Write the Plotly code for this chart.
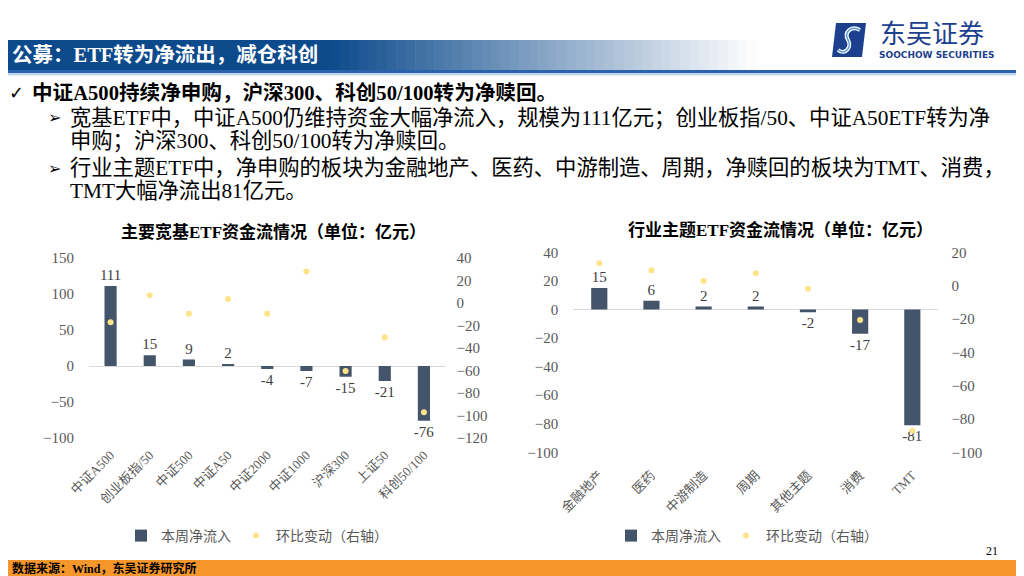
import plotly.graph_objects as go

# ---------------- data ----------------
broad_cats = ["中证A500", "创业板指/50", "中证500", "中证A50", "中证2000", "中证1000", "沪深300", "上证50", "科创50/100"]
broad_flow = [111, 15, 9, 2, -4, -7, -15, -21, -76]
broad_chg = [-17, 7, -9.5, 3.5, -9.5, 28, -60.5, -30.5, -97]

sector_cats = ["金融地产", "医药", "中游制造", "周期", "其他主题", "消费", "TMT"]
sector_flow = [15, 6, 2, 2, -2, -17, -81]
sector_chg = [13.4, 9.2, 2.8, 7.4, -1.8, -20.6, -87]

series_names = ["本周净流入", "环比变动（右轴）"]

# ---------------- style ----------------
# The page body has an 8px margin, so the figure is sized to fill the rest of the window
OFF = 8
W, H = 1024 - OFF, 576 - OFF
BAR = "#44546A"
DOT = "#FFE38A"
TICK = "#595959"
LBL = "#404040"
SERIF = "Liberation Serif, Noto Sans CJK SC, serif"
CJK = "Noto Sans CJK SC, sans-serif"


def px(x):
    return (x - OFF) / W


def py(y):
    return 1 - (y - OFF) / H


fig = go.Figure()

# left chart
fig.add_trace(go.Bar(x=broad_cats, y=broad_flow, name=series_names[0], marker_color=BAR,
                     xaxis="x", yaxis="y", text=broad_flow, texttemplate="%{text}",
                     textposition="outside", cliponaxis=False, constraintext="none",
                     textfont=dict(family=SERIF, size=15, color=LBL), legend="legend"))
fig.add_trace(go.Scatter(x=broad_cats, y=broad_chg, name=series_names[1], mode="markers",
                         marker=dict(color=DOT, size=6), xaxis="x", yaxis="y2", legend="legend"))
# right chart
fig.add_trace(go.Bar(x=sector_cats, y=sector_flow, name=series_names[0], marker_color=BAR,
                     xaxis="x2", yaxis="y3", text=sector_flow, texttemplate="%{text}",
                     textposition="outside", cliponaxis=False, constraintext="none",
                     textfont=dict(family=SERIF, size=15, color=LBL), legend="legend2"))
fig.add_trace(go.Scatter(x=sector_cats, y=sector_chg, name=series_names[1], mode="markers",
                         marker=dict(color=DOT, size=6), xaxis="x2", yaxis="y4", legend="legend2"))

tickfont = dict(family=SERIF, size=15, color=TICK)
catfont = dict(family=SERIF, size=13, color=TICK)

fig.update_layout(
    template="none",
    width=W, height=H, margin=dict(l=0, r=0, t=0, b=0, pad=0), autosize=False,
    paper_bgcolor="white", plot_bgcolor="rgba(0,0,0,0)",
    bargap=0.69, showlegend=True,
    xaxis=dict(domain=[px(89), px(445.5)], anchor="y", type="category", tickangle=-45, automargin=False,
               tickfont=catfont, showline=False, ticks="", showgrid=False, ticklabelstandoff=6),
    yaxis=dict(domain=[py(438), py(258)], range=[-100, 150], dtick=50, showgrid=False, automargin=False,
               zeroline=True, zerolinecolor="#D9D9D9", zerolinewidth=1, tickfont=tickfont,
               ticklabelstandoff=14, showline=False, ticks=""),
    yaxis2=dict(overlaying="y", side="right", anchor="x", range=[-120, 40], dtick=20, automargin=False,
                showgrid=False, zeroline=False, tickfont=tickfont, ticklabelstandoff=10, ticks=""),
    xaxis2=dict(domain=[px(573.2), px(938.4)], anchor="y3", type="category", tickangle=-45, automargin=False,
                tickfont=catfont, showline=False, ticks="", showgrid=False, ticklabelstandoff=12),
    yaxis3=dict(domain=[py(452.3), py(252.3)], anchor="x2", range=[-100, 40], dtick=20, automargin=False,
                showgrid=False, zeroline=True, zerolinecolor="#D9D9D9", zerolinewidth=1,
                tickfont=tickfont, ticklabelstandoff=14, ticks=""),
    yaxis4=dict(overlaying="y3", side="right", anchor="x2", range=[-100, 20], dtick=20, automargin=False,
                showgrid=False, zeroline=False, tickfont=tickfont, ticklabelstandoff=12, ticks=""),
    legend=dict(orientation="h", x=px(257), y=py(536), xanchor="center", yanchor="middle",
                font=dict(family=CJK, size=14, color=TICK), bgcolor="rgba(0,0,0,0)"),
    legend2=dict(orientation="h", x=px(747), y=py(536), xanchor="center", yanchor="middle",
                 font=dict(family=CJK, size=14, color=TICK), bgcolor="rgba(0,0,0,0)"),
)

shapes = []
# header band: solid then gradient to white
shapes.append(dict(type="rect", xref="paper", yref="paper", x0=0, x1=px(331), y0=py(70), y1=py(40),
                   fillcolor="#0D4A8C", line_width=0, layer="below"))
c0 = (13, 74, 140)
n = 45
xa, xb = 330, 756
for i in range(n):
    t = (i + 0.5) / n
    r = int(c0[0] + (255 - c0[0]) * t)
    g = int(c0[1] + (255 - c0[1]) * t)
    b = int(c0[2] + (255 - c0[2]) * t)
    x0 = xa + (xb - xa) * i / n
    x1 = xa + (xb - xa) * (i + 1) / n + 0.6
    shapes.append(dict(type="rect", xref="paper", yref="paper", x0=px(x0), x1=px(x1), y0=py(70), y1=py(40),
                       fillcolor=f"rgb({r},{g},{b})", line_width=0, layer="below"))
shapes.append(dict(type="rect", xref="paper", yref="paper", x0=0, x1=1, y0=py(73), y1=py(70),
                   fillcolor="#2A63AC", line_width=0, layer="below"))
shapes.append(dict(type="rect", xref="paper", yref="paper", x0=0, x1=1, y0=py(75.5), y1=py(73),
                   fillcolor="#BFD8F0", line_width=0, layer="below"))
# footer band
shapes.append(dict(type="rect", xref="paper", yref="paper", x0=0, x1=1, y0=0, y1=py(560),
                   fillcolor="#F7962A", line_width=0, layer="below"))
# logo icon
shapes.append(dict(type="path", xref="paper", yref="paper",
                   path=f"M {px(836)},{py(23)} L {px(866)},{py(23)} L {px(862)},{py(57)} L {px(832)},{py(57)} Z",
                   fillcolor="#1C3F8E", line_width=0))
logo_s = (f"M {px(838)},{py(50)} C {px(846)},{py(56)} {px(852)},{py(46)} {px(848)},{py(40)} "
          f"C {px(844)},{py(33)} {px(850)},{py(25)} {px(860)},{py(30)}")
shapes.append(dict(type="path", xref="paper", yref="paper", path=logo_s, line=dict(color="white", width=4)))
shapes.append(dict(type="path", xref="paper", yref="paper", path=logo_s, line=dict(color="#5B9BD5", width=1.5)))
fig.update_layout(shapes=shapes)

ann = []


def text(x, y, s, size, color="#000000", family=SERIF, xanchor="left", bold=False):
    if bold:
        s = f"<b>{s}</b>"
    ann.append(dict(x=px(x), y=py(y), xref="paper", yref="paper", text=s, showarrow=False,
                    xanchor=xanchor, yanchor="middle", font=dict(size=size, color=color, family=family)))


text(10, 55, "公募：ETF转为净流出，减仓科创", 20.5, "white", bold=True)
text(878, 32, "东吴证券", 26, "#1C3F8E", family=CJK)
text(937, 55, "<b>SOOCHOW SECURITIES</b>", 9, "#1C3F8E", family="DejaVu Sans", xanchor="center")

text(7, 93, "<b>✓</b>", 18, "#000000", family="DejaVu Sans")
text(30, 93, "中证A500持续净申购，沪深300、科创50/100转为净赎回。", 20.6, bold=True)
text(46, 118, "➢", 16, family="DejaVu Sans")
text(68, 118, "宽基ETF中，中证A500仍维持资金大幅净流入，规模为111亿元；创业板指/50、中证A50ETF转为净", 21.3)
text(68, 141, "申购；沪深300、科创50/100转为净赎回。", 21.3)
text(46, 168, "➢", 16, family="DejaVu Sans")
text(68, 168, "行业主题ETF中，净申购的板块为金融地产、医药、中游制造、周期，净赎回的板块为TMT、消费，", 21.3)
text(68, 191, "TMT大幅净流出81亿元。", 21.3)

text(273, 232, "主要宽基ETF资金流情况（单位：亿元）", 17, bold=True, xanchor="center")
text(780, 230, "行业主题ETF资金流情况（单位：亿元）", 17, bold=True, xanchor="center")

text(10, 568, "数据来源：Wind，东吴证券研究所", 12, bold=True)
text(992, 551, "21", 12, "#000000", xanchor="center")

fig.update_layout(annotations=ann)

fig.write_html("out.html")
